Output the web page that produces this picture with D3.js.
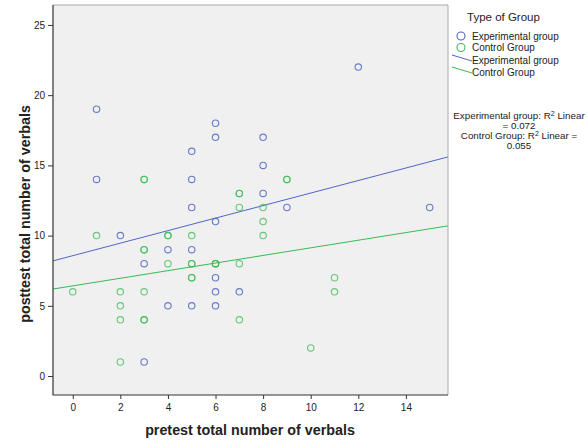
<!DOCTYPE html>
<html><head><meta charset="utf-8">
<script src="https://cdn.jsdelivr.net/npm/d3@7"></script>
<style>
body{margin:0;background:#fff;}
svg{display:block;}
text{font-family:"Liberation Sans",Arial,sans-serif;fill:#222;}
</style></head>
<body><svg id="c" width="587" height="441"></svg>
<script>
// Experimental group (pretest, posttest)
const expX = [1,1,2,3,3,4,4,5,5,5,5,5,6,6,6,6,6,6,7,8,8,8,9,12,15];
const expY = [19,14,10,8,1,9,5,16,14,12,9,5,18,17,11,7,6,5,6,17,15,13,12,22,12];
// Control group (duplicates drawn twice)
const ctlX = [0,1,2,2,2,2,3,3,3,3,3,3,3,4,4,4,5,5,5,5,5,6,6,6,7,7,7,7,7,8,8,8,9,9,10,11,11];
const ctlY = [6,10,6,5,4,1,14,14,9,9,6,4,4,10,10,8,10,8,8,7,7,8,8,8,13,13,12,8,4,12,11,10,14,14,2,7,6];
// Linear fits [intercept, slope]
const fitExp = [8.57, 0.446];
const fitCtl = [6.42, 0.271];
const xTicks = [0,2,4,6,8,10,12,14];
const yTicks = [0,5,10,15,20,25];
const groups = ["Experimental group","Control Group"];
const r2Lines = ["Experimental group: R\u00b2 Linear","= 0.072","Control Group: R\u00b2 Linear =","0.055"];

const blue = "#4f66c2", green = "#37bb50";
const svg = d3.select("#c");
const L=53, R=448, T=5, B=395;
const x = d3.scaleLinear().domain([-0.83,15.77]).range([L,R]);
const y = d3.scaleLinear().domain([-1.35,26.42]).range([B,T]);

// R2 text (under the plot frame)
const r2 = svg.append("g");
r2Lines.forEach((t,i)=>{
  const tx = r2.append("text").attr("x",519).attr("y",[119,129,139,149][i])
    .attr("text-anchor","middle").attr("font-size",9.8);
  if(t.includes("\u00b2")){
    const parts=t.split("\u00b2");
    const p0=parts[0].slice(0,-1);
    tx.append("tspan").text(p0+"R");
    tx.append("tspan").text("2").attr("font-size",7).attr("dy",-3);
    tx.append("tspan").text(parts[1]).attr("dy",3);
  } else tx.text(t);
});

svg.append("rect").attr("x",L).attr("y",T).attr("width",R-L).attr("height",B-T)
  .attr("fill","#f0f0f0");
svg.append("defs").append("clipPath").attr("id","clip").append("rect")
  .attr("x",L).attr("y",T).attr("width",R-L).attr("height",B-T);

const plot = svg.append("g").attr("clip-path","url(#clip)");
[[fitExp,blue],[fitCtl,green]].forEach(([f,c])=>{
  const d=x.domain();
  plot.append("line").attr("x1",x(d[0])).attr("y1",y(f[0]+f[1]*d[0]))
    .attr("x2",x(d[1])).attr("y2",y(f[0]+f[1]*d[1]))
    .attr("stroke",c).attr("stroke-width",1);
});
plot.selectAll("circle.e").data(expX.map((v,i)=>[v,expY[i]])).enter().append("circle")
  .attr("cx",d=>x(d[0])).attr("cy",d=>y(d[1])).attr("r",3.2)
  .attr("fill","none").attr("stroke",blue).attr("stroke-width",1.1).attr("stroke-opacity",0.85);
plot.selectAll("circle.c").data(ctlX.map((v,i)=>[v,ctlY[i]])).enter().append("circle")
  .attr("cx",d=>x(d[0])).attr("cy",d=>y(d[1])).attr("r",3.2)
  .attr("fill","none").attr("stroke",green).attr("stroke-width",1.1).attr("stroke-opacity",0.75);

// frame
svg.append("path").attr("d",`M${L},${T}H${R}V${B}`).attr("fill","none").attr("stroke","#aaa");
svg.append("path").attr("d",`M${L},${T}V${B}H${R}`).attr("fill","none").attr("stroke","#333").attr("stroke-width",1.2);

// axes
const xa = svg.append("g").attr("transform",`translate(0,${B})`)
  .call(d3.axisBottom(x).tickValues(xTicks).tickSize(4).tickPadding(5).tickFormat(d3.format("d")));
const ya = svg.append("g").attr("transform",`translate(${L},0)`)
  .call(d3.axisLeft(y).tickValues(yTicks).tickSize(5).tickPadding(3).tickFormat(d3.format("d")));
[xa,ya].forEach(a=>{
  a.select(".domain").remove();
  a.selectAll(".tick line").attr("stroke","#333");
  a.selectAll(".tick text").attr("font-size",10).attr("fill","#333")
    .attr("font-family","'Liberation Sans',Arial,sans-serif");
});

svg.append("text").attr("x",250).attr("y",435).attr("text-anchor","middle")
  .attr("font-family","'DejaVu Sans',sans-serif").attr("font-weight","bold").attr("font-size",14.3)
  .text("pretest total number of verbals");
svg.append("text").attr("transform","translate(30,214) rotate(-90)").attr("text-anchor","middle")
  .attr("font-family","'DejaVu Sans',sans-serif").attr("font-weight","bold").attr("font-size",14.3)
  .text("posttest total number of verbals");

// legend
const lg = svg.append("g");
lg.append("text").attr("x",467).attr("y",21).attr("font-size",11.5).text("Type of Group");
[[blue,36],[green,47.5]].forEach(([c,yy],i)=>{
  lg.append("circle").attr("cx",461).attr("cy",yy).attr("r",4).attr("fill","none")
    .attr("stroke",c).attr("stroke-width",1.1);
  lg.append("text").attr("x",472).attr("y",yy+3.5).attr("font-size",10).text(groups[i]);
});
[[blue,60],[green,72]].forEach(([c,yy],i)=>{
  lg.append("line").attr("x1",452).attr("y1",yy-5).attr("x2",472).attr("y2",yy+1)
    .attr("stroke",c).attr("stroke-width",1);
  lg.append("text").attr("x",472).attr("y",yy+3.5).attr("font-size",10).text(groups[i]);
});
</script></body></html>
